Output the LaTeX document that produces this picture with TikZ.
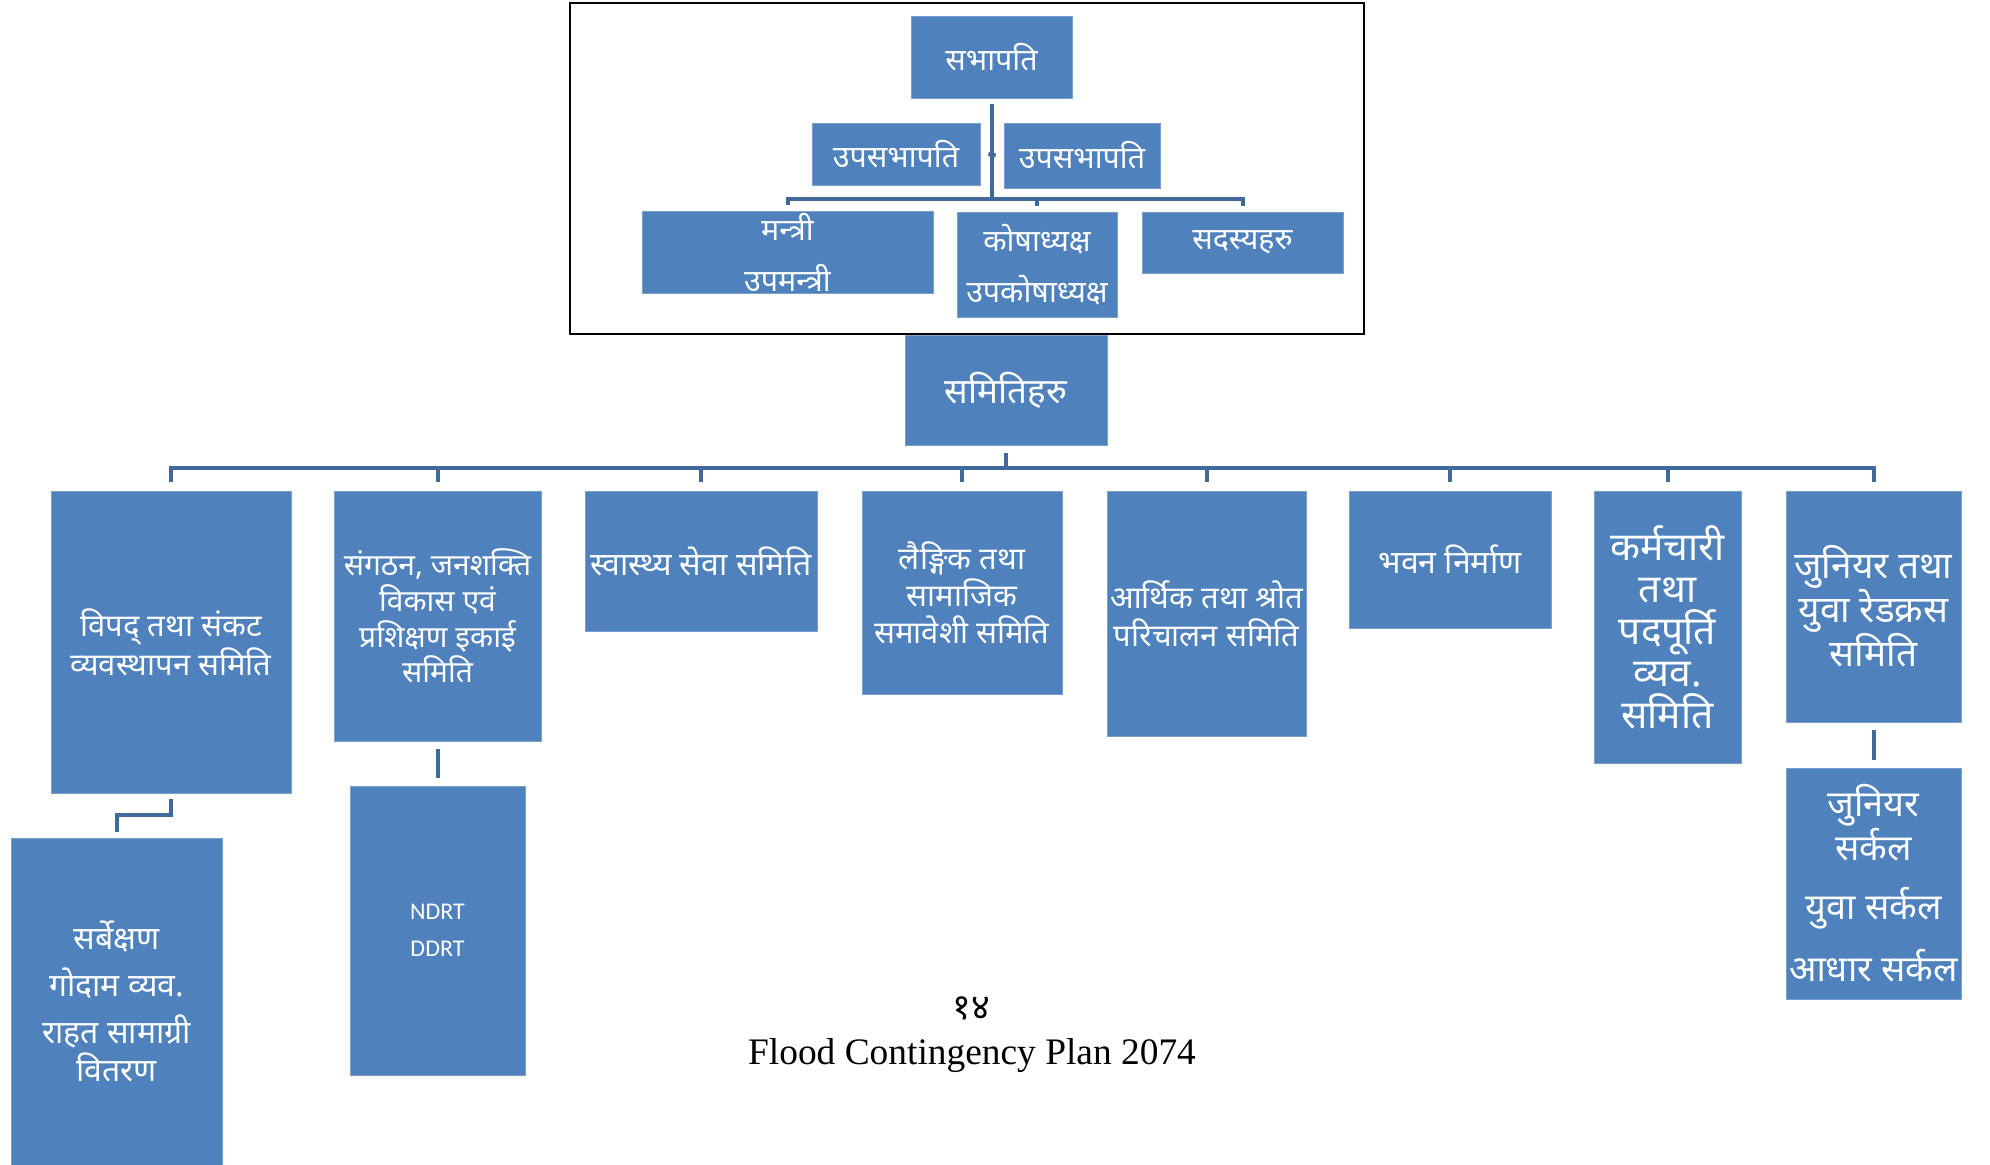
\documentclass[tikz,border=0pt]{standalone}
\usepackage{fontspec}
\setmainfont{Noto Sans}[Script=Devanagari]
\newfontfamily\calfont{Carlito}
\newfontfamily\timesfont{Liberation Serif}
\definecolor{boxblue}{RGB}{79,129,189}
\definecolor{connblue}{RGB}{65,105,155}
\newcommand{\fs}[2]{\fontsize{#1}{#2}\selectfont}

\begin{document}
\begin{tikzpicture}[x=0.5pt,y=-0.5pt]
\tikzstyle{box}=[fill=boxblue, draw=boxblue!75!white, line width=0.4pt, text=white, align=center, inner sep=1pt]
\tikzstyle{conn}=[draw=connblue, line width=2pt]
\tikzstyle{top}=[box, font=\fs{15.2pt}{19pt}]
\tikzstyle{mid}=[box, font=\fs{16pt}{19pt}]
\tikzstyle{big}=[box, font=\fs{19.5pt}{21pt}]

\useasboundingbox (0,0) rectangle (1990,1165);

\node[top, minimum width=80.5pt, minimum height=41pt] (chair) at (991.5,57) {सभापति};
\node[top, minimum width=84pt, minimum height=31pt] (vcl) at (896,154) {उपसभापति};
\node[top, minimum width=78pt, minimum height=32.5pt] (vcr) at (1082,155.5) {उपसभापति};
\node[top, minimum width=145.5pt, minimum height=40.5pt] (min) at (787.5,252.5) {मन्त्री\\[6.5pt]उपमन्त्री};
\node[top, minimum width=80pt, minimum height=52.5pt] (tre) at (1037,264.5) {कोषाध्यक्ष\\[6.5pt]उपकोषाध्यक्ष};
\node[top, minimum width=100.5pt, minimum height=30.5pt] (mem) at (1242.5,242.5) {सदस्यहरु};

\node[box, font=\fs{17.5pt}{22pt}, minimum width=101pt, minimum height=55pt] (com) at (1006,390) {समितिहरु};

\node[mid, font=\fs{15.5pt}{19.5pt}, minimum width=120pt, minimum height=151pt] (dis) at (171,642) {विपद् तथा संकट\\व्यवस्थापन समिति};
\node[mid, font=\fs{15pt}{17.8pt}, minimum width=103.5pt, minimum height=125pt] (org) at (437.5,616) {संगठन, जनशक्ति\\विकास एवं\\प्रशिक्षण इकाई\\समिति};
\node[mid, minimum width=116pt, minimum height=70pt] (hea) at (701,561) {स्वास्थ्य सेवा समिति};
\node[mid, font=\fs{15.5pt}{18.5pt}, minimum width=100pt, minimum height=101.5pt] (gen) at (962,592.5) {लैङ्गिक तथा\\सामाजिक\\समावेशी समिति};
\node[mid, font=\fs{15.5pt}{19pt}, minimum width=99.5pt, minimum height=122.5pt] (fin) at (1206.5,613.5) {आर्थिक तथा श्रोत\\परिचालन समिति};
\node[mid, minimum width=101pt, minimum height=68.5pt] (bld) at (1450,559.5) {भवन निर्माण};
\node[big, minimum width=73.5pt, minimum height=136pt] (stf) at (1667.5,627) {कर्मचारी\\तथा\\पदपूर्ति\\व्यव.\\समिति};
\node[big, font=\fs{18.5pt}{22pt}, minimum width=87.5pt, minimum height=115.5pt] (jrc) at (1873.5,606.5) {जुनियर तथा\\युवा रेडक्रस\\समिति};

\node[mid, minimum width=105.5pt, minimum height=163.5pt] (srv) at (116.5,1001.5) {सर्बेक्षण\\[4.5pt]गोदाम व्यव.\\[4.5pt]राहत सामाग्री\\वितरण};
\node[box, font=\calfont\fs{12pt}{18.5pt}, minimum width=87.5pt, minimum height=144.5pt] (ndrt) at (437.5,930.5) {NDRT\\DDRT};
\node[big, font=\fs{18pt}{20.5pt}, minimum width=87.5pt, minimum height=115.5pt] (circ) at (1873.5,883.5) {जुनियर\\सर्कल\\[9pt]युवा सर्कल\\[9pt]आधार सर्कल};

\coordinate (topbar) at (0,199);
\coordinate (midbar) at (0,468);

\draw[conn] ([yshift=-3pt]chair.south) -- (chair.south |- topbar);
\draw[conn] ([xshift=4pt]vcl.east) -- ([xshift=-4pt]vcr.west);
\draw[conn] ([yshift=3pt]min.north) -- (min.north |- topbar) -- (mem.north |- topbar) -- ([yshift=3pt]mem.north);
\draw[conn] ([yshift=3pt]tre.north) -- (tre.north |- topbar);

\draw[conn] ([yshift=-4pt]com.south) -- (com.south |- midbar);
\draw[conn] ([yshift=4.5pt]dis.north) -- (dis.north |- midbar) -- (jrc.north |- midbar) -- ([yshift=4.5pt]jrc.north);
\draw[conn] ([yshift=4.5pt]org.north) -- (org.north |- midbar);
\draw[conn] ([yshift=4.5pt]hea.north) -- (hea.north |- midbar);
\draw[conn] ([yshift=4.5pt]gen.north) -- (gen.north |- midbar);
\draw[conn] ([yshift=4.5pt]fin.north) -- (fin.north |- midbar);
\draw[conn] ([yshift=4.5pt]bld.north) -- (bld.north |- midbar);
\draw[conn] ([yshift=4.5pt]stf.north) -- (stf.north |- midbar);

\draw[conn] ([yshift=-3pt]dis.south) -- ++(0,16) -| ([yshift=3pt]srv.north);
\path[conn] ([yshift=-4pt]org.south) edge ([yshift=4pt]ndrt.north);
\path[conn] ([yshift=-4pt]jrc.south) edge ([yshift=4pt]circ.north);

\draw[line width=1.2pt] (570,3) rectangle (1364,334);

\node[font=\fs{18pt}{20pt}] (page) at (971,1009) {१४};
\node[font=\timesfont\fs{18.7pt}{21pt}] (title) at (972,1056) {Flood Contingency Plan 2074};
\end{tikzpicture}
\end{document}
